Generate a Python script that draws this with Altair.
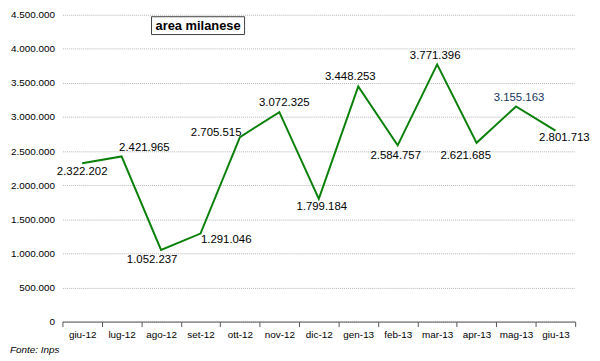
import altair as alt
import pandas as pd

# ---- data ----
months = ["giu-12", "lug-12", "ago-12", "set-12", "ott-12", "nov-12", "dic-12",
          "gen-13", "feb-13", "mar-13", "apr-13", "mag-13", "giu-13"]
values = [2322202, 2421965, 1052237, 1291046, 2705515, 3072325, 1799184,
          3448253, 2584757, 3771396, 2621685, 3155163, 2801713]
y_ticks = [0, 500000, 1000000, 1500000, 2000000, 2500000, 3000000, 3500000, 4000000, 4500000]
box_title = "area milanese"
source_note = "Fonte: Inps"

df = pd.DataFrame({"mese": months, "valore": values})

# label placement (pixel offsets from each point), layout only
LABEL_OFFSETS = {
    "giu-12": (0, 9), "lug-12": (23, -9), "ago-12": (-9, 10), "set-12": (26, 7),
    "ott-12": (-24, -4), "nov-12": (5, -9), "dic-12": (3, 8), "gen-13": (-8, -10),
    "feb-13": (-2, 11), "mar-13": (-2, -8), "apr-13": (-11, 13), "mag-13": (3, -9),
    "giu-13": (9, 8),
}
LABEL_COLORS = {"mag-13": "#17375e"}

FONT = "Liberation Sans"
W, H = 518, 310

x_enc = alt.X(
    "mese:N", sort=months,
    scale=alt.Scale(type="band", paddingInner=0, paddingOuter=0),
    axis=alt.Axis(title=None, labelAngle=0, tickBand="extent", grid=False,
                  domainColor="#555555", tickColor="#555555", tickSize=5,
                  labelPadding=3, labelFontSize=10, labelColor="#000000",
                  labelFont=FONT, labelOverlap=False),
)
y_enc = alt.Y(
    "valore:Q",
    scale=alt.Scale(domain=[0, 4500000], nice=False, zero=True),
    axis=alt.Axis(title=None, values=y_ticks, tickCount=10, format=",d", domain=False,
                  ticks=False, labelPadding=8, labelFontSize=10, labelColor="#000000",
                  labelFont=FONT, labelOverlap=False, labelBound=False, labelFlush=False,
                  gridColor="#b5b5b5", gridDash=[1, 1], gridWidth=1),
)

base = alt.Chart(df)
line = base.mark_line(color="#0a800a", strokeWidth=2).encode(x=x_enc, y=y_enc)

labels = []
for m in months:
    dx, dy = LABEL_OFFSETS[m]
    labels.append(
        base.transform_filter(alt.datum.mese == m)
        .mark_text(dx=dx, dy=dy, fontSize=11.5, font=FONT, align="center", baseline="middle",
                   color=LABEL_COLORS.get(m, "#000000"))
        .encode(x=x_enc, y=y_enc, text=alt.Text("valore:Q", format=",d"))
    )

one = alt.Data(values=[{}])
box = alt.Chart(one).mark_rect(fill="#ffffff", stroke="#404040", strokeWidth=1).encode(
    x=alt.value(90), x2=alt.value(184), y=alt.value(2), y2=alt.value(20))
box_text = alt.Chart(one).mark_text(text=box_title, font=FONT, fontSize=13, fontWeight="bold",
                                    align="center", baseline="middle", color="#000000").encode(
    x=alt.value(137), y=alt.value(11.5))
note = alt.Chart(one).mark_text(text=source_note, font=FONT, fontSize=10, fontStyle="italic",
                                align="left", baseline="middle", color="#000000").encode(
    x=alt.value(-53), y=alt.value(339))

chart = alt.layer(line, *labels, box, box_text, note).properties(
    width=W, height=H,
    autosize=alt.AutoSizeParams(type="none"),
    padding={"left": 55, "top": 5, "right": 17, "bottom": 38},
).configure(
    locale={"number": {"decimal": ",", "thousands": ".", "grouping": [3], "currency": ["€", ""]}},
    background="#ffffff",
).configure_view(stroke=None)

chart.save("out.html", embed_options={"renderer": "svg", "actions": False})
